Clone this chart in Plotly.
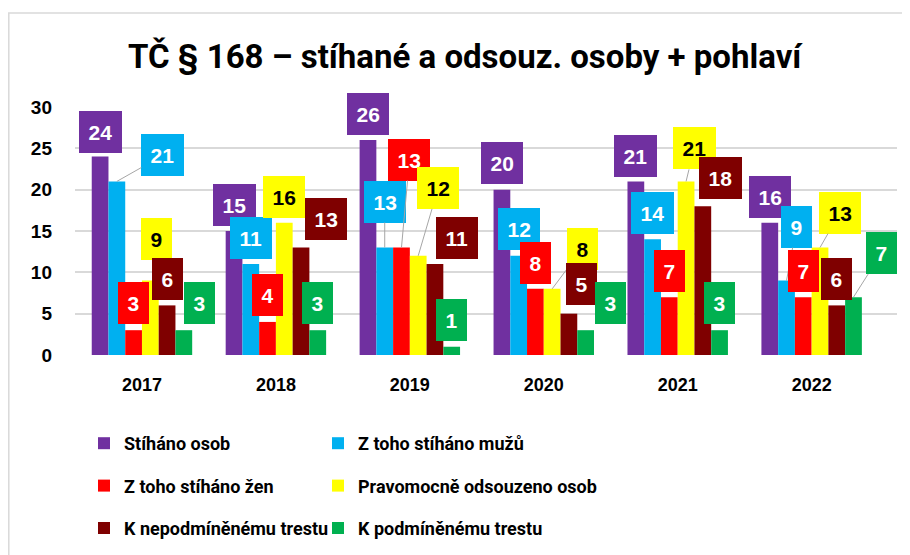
import plotly.graph_objects as go

# ---------------- data ----------------
years = ["2017", "2018", "2019", "2020", "2021", "2022"]
stihano_osob = [24, 15, 26, 20, 21, 16]
stihano_muzu = [21, 11, 13, 12, 14, 9]
stihano_zen = [3, 4, 13, 8, 7, 7]
pravomocne_odsouzeno = [9, 16, 12, 8, 21, 13]
nepodminene = [6, 13, 11, 5, 18, 6]
podminene = [3, 3, 1, 3, 3, 7]
y_tick_values = [0, 5, 10, 15, 20, 25, 30]

series_names = [
    "Stíháno osob",
    "Z toho stíháno mužů",
    "Z toho stíháno žen",
    "Pravomocně odsouzeno osob",
    "K nepodmíněnému trestu",
    "K podmíněnému trestu",
]
series_values = [stihano_osob, stihano_muzu, stihano_zen,
                 pravomocne_odsouzeno, nepodminene, podminene]

# ---------------- styles ----------------
colors = ["#7030A0", "#00B0F0", "#FF0000", "#FFFF00", "#7F0000", "#00B050"]
label_text_colors = ["white", "white", "white", "black", "white", "white"]
legend_of_series = ["legend", "legend2", "legend", "legend2", "legend", "legend2"]

# callout box offsets from bar top (pixels) and whether a leader line is drawn
label_dx = [[0, 0, 0, 0, 0, 0],
            [46, 0, 0, 0, 0, 10],
            [0, 0, 8, 0, 0, 0],
            [6, 0, 20, 30, 8, 20],
            [0, 25, 22, 13, 18, 0],
            [16, 0, 0, 25, 0, 28]]
label_dy = [[-25, -26, -26, -27, -25, -26],
            [-26, -26, -46, -27, -26, -54],
            [-27, -27, -88, -26, -26, -26],
            [-42, -26, -68, -40, -33, -35],
            [-26, -29, -26, -30, -28, -26],
            [-27, -27, -27, -27, -27, -44]]
leader = [[0, 0, 0, 0, 0, 0],
          [1, 0, 1, 0, 0, 1],
          [0, 0, 1, 0, 0, 0],
          [0, 0, 1, 1, 1, 1],
          [0, 0, 0, 0, 0, 0],
          [0, 0, 0, 0, 0, 1]]

NUM_FONT = "Liberation Sans, Arial, sans-serif"
TEXT_FONT = "Roboto, Liberation Sans, Arial, sans-serif"
BAR_GAP = 0.25

# page body has an 8px margin; figure is sized so it fits the window
FIG_W, FIG_H = 902, 547
M_L, M_T, PLOT_W, PLOT_H = 67, 99, 822, 248
M_R = FIG_W - M_L - PLOT_W
M_B = FIG_H - M_T - PLOT_H
SCREEN_OFF = 8


def paper_x(sx):
    return (sx - SCREEN_OFF - M_L) / PLOT_W


def paper_y(sy):
    return (SCREEN_OFF + M_T + PLOT_H - sy) / PLOT_H


def container_y(sy):
    return 1 - (sy - SCREEN_OFF) / FIG_H


fig = go.Figure()
for i, (name, vals) in enumerate(zip(series_names, series_values)):
    fig.add_trace(go.Bar(
        x=years, y=vals, name=name,
        marker=dict(color=colors[i], line=dict(width=0)),
        legend=legend_of_series[i],
        legendgroup=f"g{i}",
        hoverinfo="x+y+name",
    ))

# callout labels
n_series = len(series_values)
bar_w = (1 - BAR_GAP) / n_series
annotations = []
for i, vals in enumerate(series_values):
    for j, v in enumerate(vals):
        xpos = j - (1 - BAR_GAP) / 2 + bar_w * (i + 0.5)
        annotations.append(dict(
            x=xpos, y=v, xref="x", yref="y",
            text=str(v),
            showarrow=True, arrowhead=0, arrowwidth=1, standoff=0,
            arrowcolor="#A6A6A6" if leader[i][j] else "rgba(0,0,0,0)",
            ax=label_dx[i][j], ay=label_dy[i][j],
            bgcolor=colors[i], borderpad=9.5, borderwidth=0,
            font=dict(family=NUM_FONT, size=21, weight="bold",
                      color=label_text_colors[i]),
        ))

# title
annotations.append(dict(
    text="TČ § 168 – stíhané a odsouz. osoby + pohlaví",
    xref="paper", yref="paper", x=paper_x(465), y=paper_y(57),
    xanchor="center", yanchor="middle", showarrow=False,
    font=dict(family=TEXT_FONT, size=33, weight="bold", color="black"),
))

legend_common = dict(
    orientation="v", xanchor="left",
    yref="container", y=container_y(425), yanchor="top",
    font=dict(family=TEXT_FONT, size=18, weight="bold", color="black"),
    tracegroupgap=16, bgcolor="rgba(0,0,0,0)",
    itemclick=False, itemdoubleclick=False,
)

fig.update_layout(
    width=FIG_W, height=FIG_H,
    margin=dict(l=M_L, r=M_R, t=M_T, b=M_B),
    paper_bgcolor="white", plot_bgcolor="white",
    barmode="group", bargap=BAR_GAP, bargroupgap=0,
    annotations=annotations,
    showlegend=True,
    legend=dict(x=paper_x(84), **legend_common),
    legend2=dict(x=paper_x(318), **legend_common),
    shapes=[dict(
        type="rect", xref="paper", yref="paper",
        x0=paper_x(8.8), x1=1.2, y0=-1.2, y1=paper_y(13),
        line=dict(color="#D9D9D9", width=1.5), fillcolor="rgba(0,0,0,0)",
        layer="below",
    )],
)
fig.update_yaxes(
    range=[0, 30], tickvals=y_tick_values,
    showgrid=True, gridcolor="#D9D9D9", gridwidth=1.5,
    zeroline=False, showline=False, ticks="",
    ticklabelstandoff=22,
    tickfont=dict(family=NUM_FONT, size=19, weight="bold", color="black"),
    fixedrange=True,
)
fig.update_xaxes(
    type="category", showgrid=False, zeroline=False, showline=False, ticks="",
    ticklabelstandoff=17,
    tickfont=dict(family=NUM_FONT, size=18, weight="bold", color="black"),
    fixedrange=True,
)

fig.write_html("out.html")
